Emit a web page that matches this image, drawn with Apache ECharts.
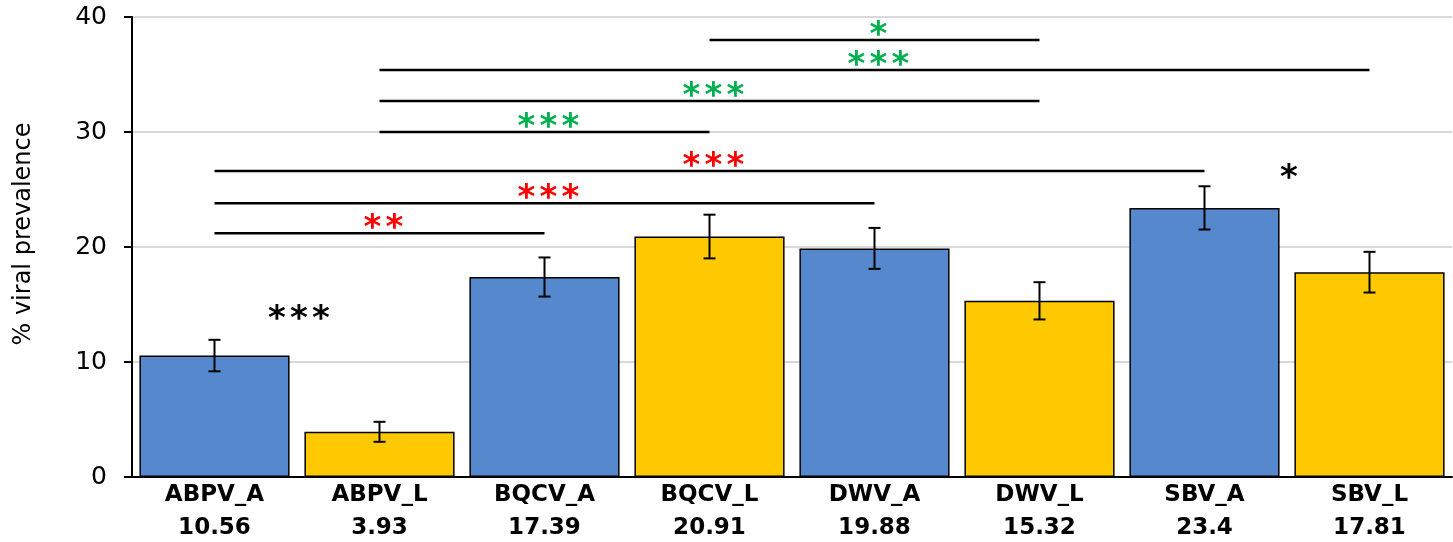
<!DOCTYPE html>
<html>
<head>
<meta charset="utf-8">
<style>
html,body{margin:0;padding:0;background:#fff;}
#chart{width:1453px;height:542px;}
</style>
<script src="https://cdn.jsdelivr.net/npm/echarts@6/dist/echarts.min.js"></script>
</head>
<body>
<div id="chart"></div>
<script>
// ---- data ----
const categories = ['ABPV_A','ABPV_L','BQCV_A','BQCV_L','DWV_A','DWV_L','SBV_A','SBV_L'];
const prevalence = [10.56, 3.93, 17.39, 20.91, 19.88, 15.32, 23.4, 17.81];
const errors = [1.37, 0.87, 1.7, 1.9, 1.78, 1.62, 1.88, 1.77];
const barColors = ['#5588cc','#ffc900','#5588cc','#ffc900','#5588cc','#ffc900','#5588cc','#ffc900'];
const yTicks = [0, 10, 20, 30, 40];

// significance brackets: from category, to category, height, number of stars, colour of stars
const sigFrom  = [0, 0, 0, 1, 1, 1, 3];
const sigTo    = [2, 4, 6, 3, 5, 7, 5];
const sigY     = [21.2, 23.8, 26.6, 30.0, 32.7, 35.4, 38.0];
const sigStars = [2, 3, 3, 3, 3, 3, 1];
const sigColor = ['#ff0000','#ff0000','#ff0000','#00b050','#00b050','#00b050','#00b050'];

// stand-alone stars between paired categories
const pairLeft  = [0, 6];
const pairRight = [1, 7];
const pairY     = [14.3, 26.6];
const pairStars = [3, 1];

const chart = echarts.init(document.getElementById('chart'));
const STAR_FONT = 'bold 34px "DejaVu Sans", sans-serif';
const STAR_STEP = 22;

function starGroup(n, cx, cy, color) {
  const kids = [];
  for (let s = 0; s < n; s++) {
    kids.push({
      type: 'text',
      style: {
        text: '*', x: cx + (s - (n - 1) / 2) * STAR_STEP, y: cy,
        fill: color, font: STAR_FONT,
        textAlign: 'center', textVerticalAlign: 'middle', align: 'center', verticalAlign: 'middle'
      }
    });
  }
  return kids;
}

chart.setOption({
  animation: false,
  grid: { left: 132, right: 1, top: 17, bottom: 65, outerBoundsMode: 'none', containLabel: false },
  xAxis: {
    type: 'category',
    data: categories,
    axisLine: { lineStyle: { color: '#000', width: 2 } },
    axisTick: { show: false },
    axisLabel: {
      interval: 0,
      margin: 2,
      color: '#000',
      fontFamily: 'DejaVu Sans',
      fontWeight: 'bold',
      fontSize: 23,
      lineHeight: 33,
      formatter: (v, i) => v + '\n' + prevalence[i]
    }
  },
  yAxis: {
    type: 'value',
    min: yTicks[0],
    max: yTicks[yTicks.length - 1],
    interval: 10,
    name: '% viral prevalence',
    nameLocation: 'middle',
    nameGap: 96,
    nameTextStyle: { fontFamily: 'DejaVu Sans', fontSize: 24, color: '#000', padding: [0, 0, 0, 26] },
    axisLine: { show: true, lineStyle: { color: '#000', width: 2 } },
    axisTick: { show: true, length: 8, lineStyle: { color: '#000', width: 2 } },
    axisLabel: { color: '#000', fontFamily: 'DejaVu Sans', fontSize: 25, margin: 25 },
    splitLine: { lineStyle: { color: '#d9d9d9', width: 2 } }
  },
  series: [
    {
      type: 'bar',
      data: prevalence.map((v, i) => ({ value: v, itemStyle: { color: barColors[i] } })),
      barCategoryGap: '9%',
      itemStyle: { borderColor: '#000', borderWidth: 1.5 },
      z: 2
    },
    {
      type: 'custom',
      z: 3,
      data: prevalence.map((v, i) => [i, v - errors[i], v + errors[i]]),
      renderItem: function (params, api) {
        const lo = api.coord([api.value(0), api.value(1)]);
        const hi = api.coord([api.value(0), api.value(2)]);
        const w = 6;
        const st = { stroke: '#000', lineWidth: 2 };
        return {
          type: 'group',
          children: [
            { type: 'line', shape: { x1: lo[0], y1: lo[1], x2: hi[0], y2: hi[1] }, style: st },
            { type: 'line', shape: { x1: lo[0] - w, y1: lo[1], x2: lo[0] + w, y2: lo[1] }, style: st },
            { type: 'line', shape: { x1: hi[0] - w, y1: hi[1], x2: hi[0] + w, y2: hi[1] }, style: st }
          ]
        };
      }
    },
    {
      type: 'custom',
      z: 4,
      data: sigFrom.map((f, i) => [f, sigTo[i], sigY[i], i]),
      renderItem: function (params, api) {
        const a = api.coord([api.value(0), api.value(2)]);
        const b = api.coord([api.value(1), api.value(2)]);
        const k = api.value(3);
        const mx = (a[0] + b[0]) / 2;
        return {
          type: 'group',
          children: [
            { type: 'line', shape: { x1: a[0], y1: a[1], x2: b[0], y2: b[1] },
              style: { stroke: '#000', lineWidth: 2.5 } }
          ].concat(starGroup(sigStars[k], mx + 4, a[1] - 4, sigColor[k]))
        };
      }
    },
    {
      type: 'custom',
      z: 4,
      data: pairLeft.map((l, i) => [l, pairRight[i], pairY[i], i]),
      renderItem: function (params, api) {
        const a = api.coord([api.value(0), api.value(2)]);
        const b = api.coord([api.value(1), api.value(2)]);
        const k = api.value(3);
        return {
          type: 'group',
          children: starGroup(pairStars[k], (a[0] + b[0]) / 2 + 2, a[1] + 8, '#000')
        };
      }
    }
  ]
});
</script>
</body>
</html>
